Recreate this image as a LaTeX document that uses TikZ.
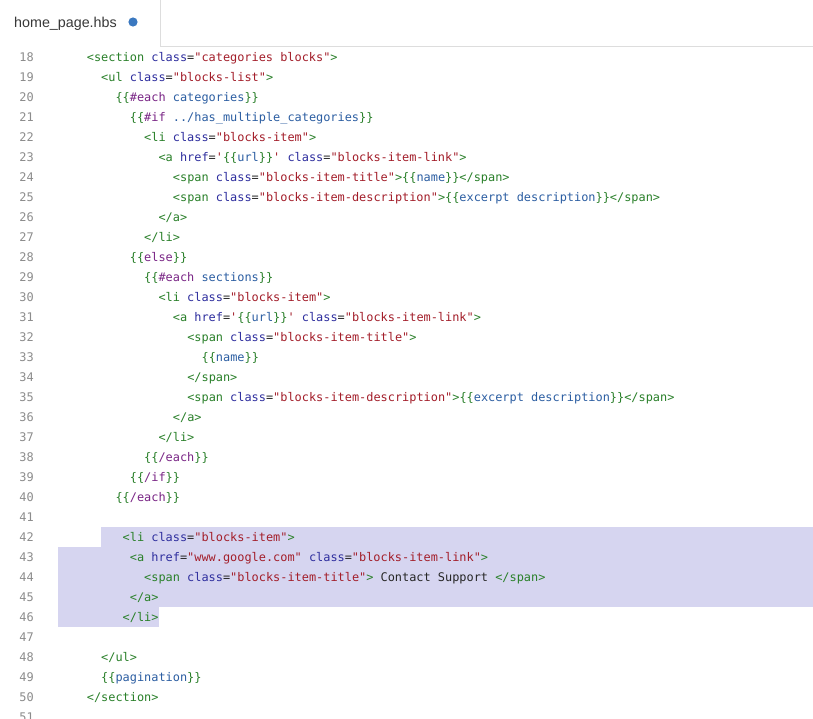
\documentclass[tikz,border=0pt]{standalone}
\usepackage{fontspec}
\setmainfont{Liberation Sans}
\setmonofont{DejaVu Sans Mono}
\usepackage{tikz}

\definecolor{tagcol}{RGB}{42,128,42}
\definecolor{attrcol}{RGB}{46,46,158}
\definecolor{strcol}{RGB}{163,30,42}
\definecolor{keycol}{RGB}{122,38,134}
\definecolor{varcol}{RGB}{44,94,162}
\definecolor{numcol}{RGB}{140,140,140}
\definecolor{selcol}{RGB}{214,213,240}
\definecolor{tabline}{RGB}{221,221,221}
\definecolor{dotcol}{RGB}{58,120,192}

\newcommand{\ctag}[1]{\textcolor{tagcol}{#1}}
\newcommand{\cattr}[1]{\textcolor{attrcol}{#1}}
\newcommand{\cstr}[1]{\textcolor{strcol}{#1}}
\newcommand{\ckey}[1]{\textcolor{keycol}{#1}}
\newcommand{\cvar}[1]{\textcolor{varcol}{#1}}

% ligne de code : numero, colonne, texte
\newcommand{\codeline}[3]{\node[code] (c#1) at ({58+#2*7.17},{61+(#1-18)*20}) {#3};}

\begin{document}
\begin{tikzpicture}[x=1pt, y=-1pt,
    code/.style={anchor=base west, inner sep=0pt, font=\ttfamily\fontsize{11.9}{14}\selectfont, text=black!85},
    lnum/.style={anchor=base east, inner sep=0pt, font=\ttfamily\fontsize{11.9}{14}\selectfont, text=numcol}]

    \useasboundingbox[fill=white] (0,0) rectangle (813,718);

    % onglet
    \draw[draw=tabline] (160,0) -- (160,46) -- (813,46);
    \node[anchor=base west, inner sep=0pt, font=\fontsize{14.3}{16}\selectfont, text=black!78] (tab) at (14,27) {home\_page.hbs};
    \fill[dotcol] (133,22) circle (4.6);

    % selection
    \fill[selcol] (101,527) rectangle (813,547);
    \fill[selcol] (58,547) rectangle (813,607);
    \fill[selcol] (58,607) rectangle (158.5,627);

    % numeros de ligne
    \foreach \n in {18,...,51}
        \node[lnum] (n\n) at (34,{61+(\n-18)*20}) {\n};

    % code
    \codeline{18}{4}{\ctag{<section} \cattr{class}=\cstr{"categories blocks"}\ctag{>}}
    \codeline{19}{6}{\ctag{<ul} \cattr{class}=\cstr{"blocks-list"}\ctag{>}}
    \codeline{20}{8}{\ctag{\{\{}\ckey{\#each} \cvar{categories}\ctag{\}\}}}
    \codeline{21}{10}{\ctag{\{\{}\ckey{\#if} \cvar{../has\_multiple\_categories}\ctag{\}\}}}
    \codeline{22}{12}{\ctag{<li} \cattr{class}=\cstr{"blocks-item"}\ctag{>}}
    \codeline{23}{14}{\ctag{<a} \cattr{href}=\cstr{'}\ctag{\{\{}\cvar{url}\ctag{\}\}}\cstr{'} \cattr{class}=\cstr{"blocks-item-link"}\ctag{>}}
    \codeline{24}{16}{\ctag{<span} \cattr{class}=\cstr{"blocks-item-title"}\ctag{>\{\{}\cvar{name}\ctag{\}\}</span>}}
    \codeline{25}{16}{\ctag{<span} \cattr{class}=\cstr{"blocks-item-description"}\ctag{>\{\{}\cvar{excerpt description}\ctag{\}\}</span>}}
    \codeline{26}{14}{\ctag{</a>}}
    \codeline{27}{12}{\ctag{</li>}}
    \codeline{28}{10}{\ctag{\{\{}\ckey{else}\ctag{\}\}}}
    \codeline{29}{12}{\ctag{\{\{}\ckey{\#each} \cvar{sections}\ctag{\}\}}}
    \codeline{30}{14}{\ctag{<li} \cattr{class}=\cstr{"blocks-item"}\ctag{>}}
    \codeline{31}{16}{\ctag{<a} \cattr{href}=\cstr{'}\ctag{\{\{}\cvar{url}\ctag{\}\}}\cstr{'} \cattr{class}=\cstr{"blocks-item-link"}\ctag{>}}
    \codeline{32}{18}{\ctag{<span} \cattr{class}=\cstr{"blocks-item-title"}\ctag{>}}
    \codeline{33}{20}{\ctag{\{\{}\cvar{name}\ctag{\}\}}}
    \codeline{34}{18}{\ctag{</span>}}
    \codeline{35}{18}{\ctag{<span} \cattr{class}=\cstr{"blocks-item-description"}\ctag{>\{\{}\cvar{excerpt description}\ctag{\}\}</span>}}
    \codeline{36}{16}{\ctag{</a>}}
    \codeline{37}{14}{\ctag{</li>}}
    \codeline{38}{12}{\ctag{\{\{}\ckey{/each}\ctag{\}\}}}
    \codeline{39}{10}{\ctag{\{\{}\ckey{/if}\ctag{\}\}}}
    \codeline{40}{8}{\ctag{\{\{}\ckey{/each}\ctag{\}\}}}

    \codeline{42}{9}{\ctag{<li} \cattr{class}=\cstr{"blocks-item"}\ctag{>}}
    \codeline{43}{10}{\ctag{<a} \cattr{href}=\cstr{"www.google.com"} \cattr{class}=\cstr{"blocks-item-link"}\ctag{>}}
    \codeline{44}{12}{\ctag{<span} \cattr{class}=\cstr{"blocks-item-title"}\ctag{>} Contact Support \ctag{</span>}}
    \codeline{45}{10}{\ctag{</a>}}
    \codeline{46}{9}{\ctag{</li>}}

    \codeline{48}{6}{\ctag{</ul>}}
    \codeline{49}{6}{\ctag{\{\{}\cvar{pagination}\ctag{\}\}}}
    \codeline{50}{4}{\ctag{</section>}}

\end{tikzpicture}
\end{document}
